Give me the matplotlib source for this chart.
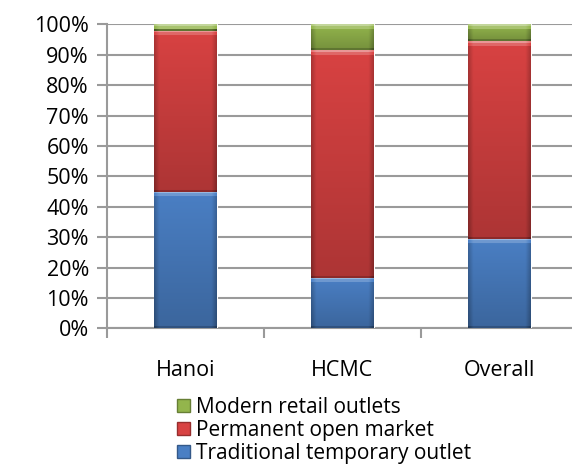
import numpy as np
import matplotlib.pyplot as plt
from matplotlib.colors import to_rgb
from matplotlib.patches import Patch
from matplotlib.ticker import FixedLocator, PercentFormatter

plt.rcParams['font.family'] = ['Open Sans', 'DejaVu Sans']

places = ['Hanoi', 'HCMC', 'Overall']
traditional = [44.8, 16.7, 29.4]
permanent = [53.0, 74.8, 65.1]
modern = [2.2, 8.5, 5.5]

series = [
    ('Traditional temporary outlet', traditional, '#4a7fc4'),
    ('Permanent open market', permanent, '#d84242'),
    ('Modern retail outlets', modern, '#93b54c'),
]

PX_PER_UNIT = 3.04  # vertical pixels per percent on this axes


def shade(color, f):
    c = np.array(to_rgb(color))
    if f >= 0:
        return c + (1 - c) * f
    return c * (1 + f)


def bevel(color, height, nx=60):
    # light rim on top, darker sides and bottom
    ny = max(int(round(height * PX_PER_UNIT)), 2)
    xs = np.linspace(0, 1, nx)
    side = np.clip(np.minimum(xs, 1 - xs) / 0.08, 0, 1)
    img = np.zeros((ny, nx, 3))
    for i in range(ny):
        y = i / max(ny - 1, 1)
        f = -0.2 * y
        if i < 2:
            f = 0.45
        elif i < 5:
            f = 0.2
        elif i >= ny - 2:
            f = -0.35
        img[i] = [shade(color, f - 0.2 * (1 - s)) for s in side]
    return img


fig = plt.figure(figsize=(5.72, 4.68), dpi=100)
ax = fig.add_axes([0.187, 0.2985, 0.8235, 0.6495])

x = np.arange(len(places))
bottom = np.zeros(len(places))
handles = []
for name, vals, color in series:
    bars = ax.bar(x, vals, width=0.4, bottom=bottom, color=color,
                  edgecolor='white', linewidth=0.8, zorder=3)
    for b in bars:
        x0, y0 = b.get_x(), b.get_y()
        w, h = b.get_width(), b.get_height()
        im = ax.imshow(bevel(color, h), extent=(x0, x0 + w, y0, y0 + h),
                       aspect='auto', zorder=3.5, interpolation='bilinear')
        im.set_clip_path(b)
    bottom += np.array(vals)
    handles.append(Patch(facecolor=color, edgecolor=shade(color, -0.3), label=name))

ax.set_xlim(-0.5, 2.5)
ax.set_ylim(0, 100)
ax.yaxis.set_major_locator(FixedLocator(np.arange(0, 101, 10)))
ax.yaxis.set_major_formatter(PercentFormatter(decimals=0))
ax.grid(axis='y', color='#9a9a9a', linewidth=1.5, zorder=0)
ax.set_axisbelow(True)

ax.set_xticks(x)
ax.set_xticklabels(places)
ax.set_xticks([-0.5, 0.5, 1.5, 2.5], minor=True)
ax.tick_params(axis='x', which='major', length=0, pad=23, labelsize=15.5)
ax.tick_params(axis='x', which='minor', length=7, width=1.5, color='#9a9a9a')
ax.tick_params(axis='y', length=7, width=1.5, color='#9a9a9a', pad=6, labelsize=15.5)

for s in ['top', 'right']:
    ax.spines[s].set_visible(False)
ax.spines['left'].set_color('#9a9a9a')
ax.spines['left'].set_linewidth(1.5)
ax.spines['bottom'].set_color('#9a9a9a')
ax.spines['bottom'].set_linewidth(1.5)

fig.legend(handles=handles[::-1], loc='upper left', bbox_to_anchor=(0.31, 0.152),
           frameon=False, fontsize=15, handlelength=0.6, handleheight=0.6,
           handletextpad=0.3, labelspacing=0.1, borderpad=0, borderaxespad=0)

fig.savefig('out.png', dpi=100)
